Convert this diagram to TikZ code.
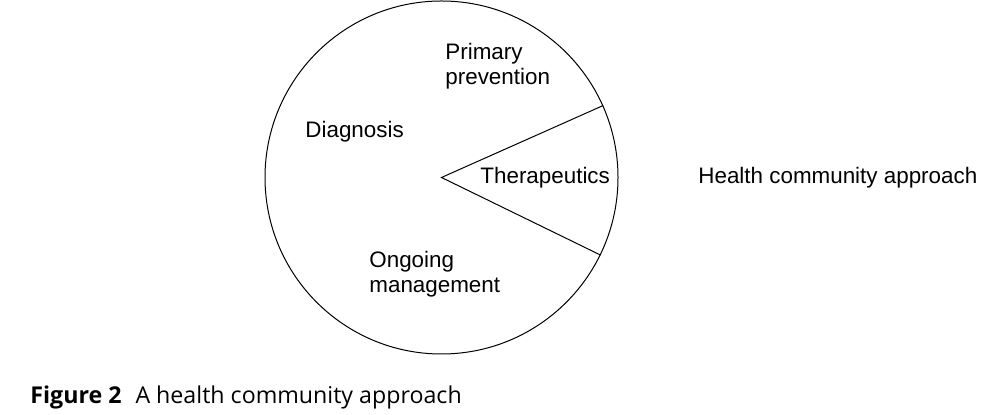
\documentclass[tikz,border=0pt]{standalone}
\usepackage{fontspec}
\setmainfont{Liberation Sans}
\newfontfamily\capfont{Open Sans}

\begin{document}
\begin{tikzpicture}[x=0.5pt,y=-0.5pt,
    lbl/.style={inner sep=0pt,anchor=base west,align=left,
        font=\fontsize{11.2}{12.5}\selectfont}]
        % =========================================================
        % Frame: 989 x 415 px, 1 px = 0.5 pt
        % =========================================================
        \useasboundingbox (0,0) rectangle (989,415);

        % ---------------------------------------------------------
        % Pie with therapeutics wedge
        % ---------------------------------------------------------
        \node[draw,circle,line width=0.5pt,minimum size=176.5pt,inner sep=0pt]
            (pie) at (441.5,177.5) {};

        % Wedge lines from the centre to the rim
        \draw[line width=0.5pt] (pie.24) -- (pie.center) -- (pie.-26.5);

        % Segment labels (base = last line)
        \node[lbl] (prim) at (445,85) {Primary\\prevention};
        \node[lbl] (diag) at (305,138) {Diagnosis};
        \node[lbl] (ther) at (480,184) {Therapeutics};
        \node[lbl] (ongo) at (369,293) {Ongoing\\management};

        % Title on the right
        \node[lbl] (appr) at (698,184) {Health community approach};

        % ---------------------------------------------------------
        % Caption
        % ---------------------------------------------------------
        \node[inner sep=0pt,anchor=base west,font=\capfont\fontsize{11.6}{13}\selectfont]
            (capt) at (30,404) {\textbf{Figure 2}\hspace{0.6em}A health community approach};
\end{tikzpicture}
\end{document}
